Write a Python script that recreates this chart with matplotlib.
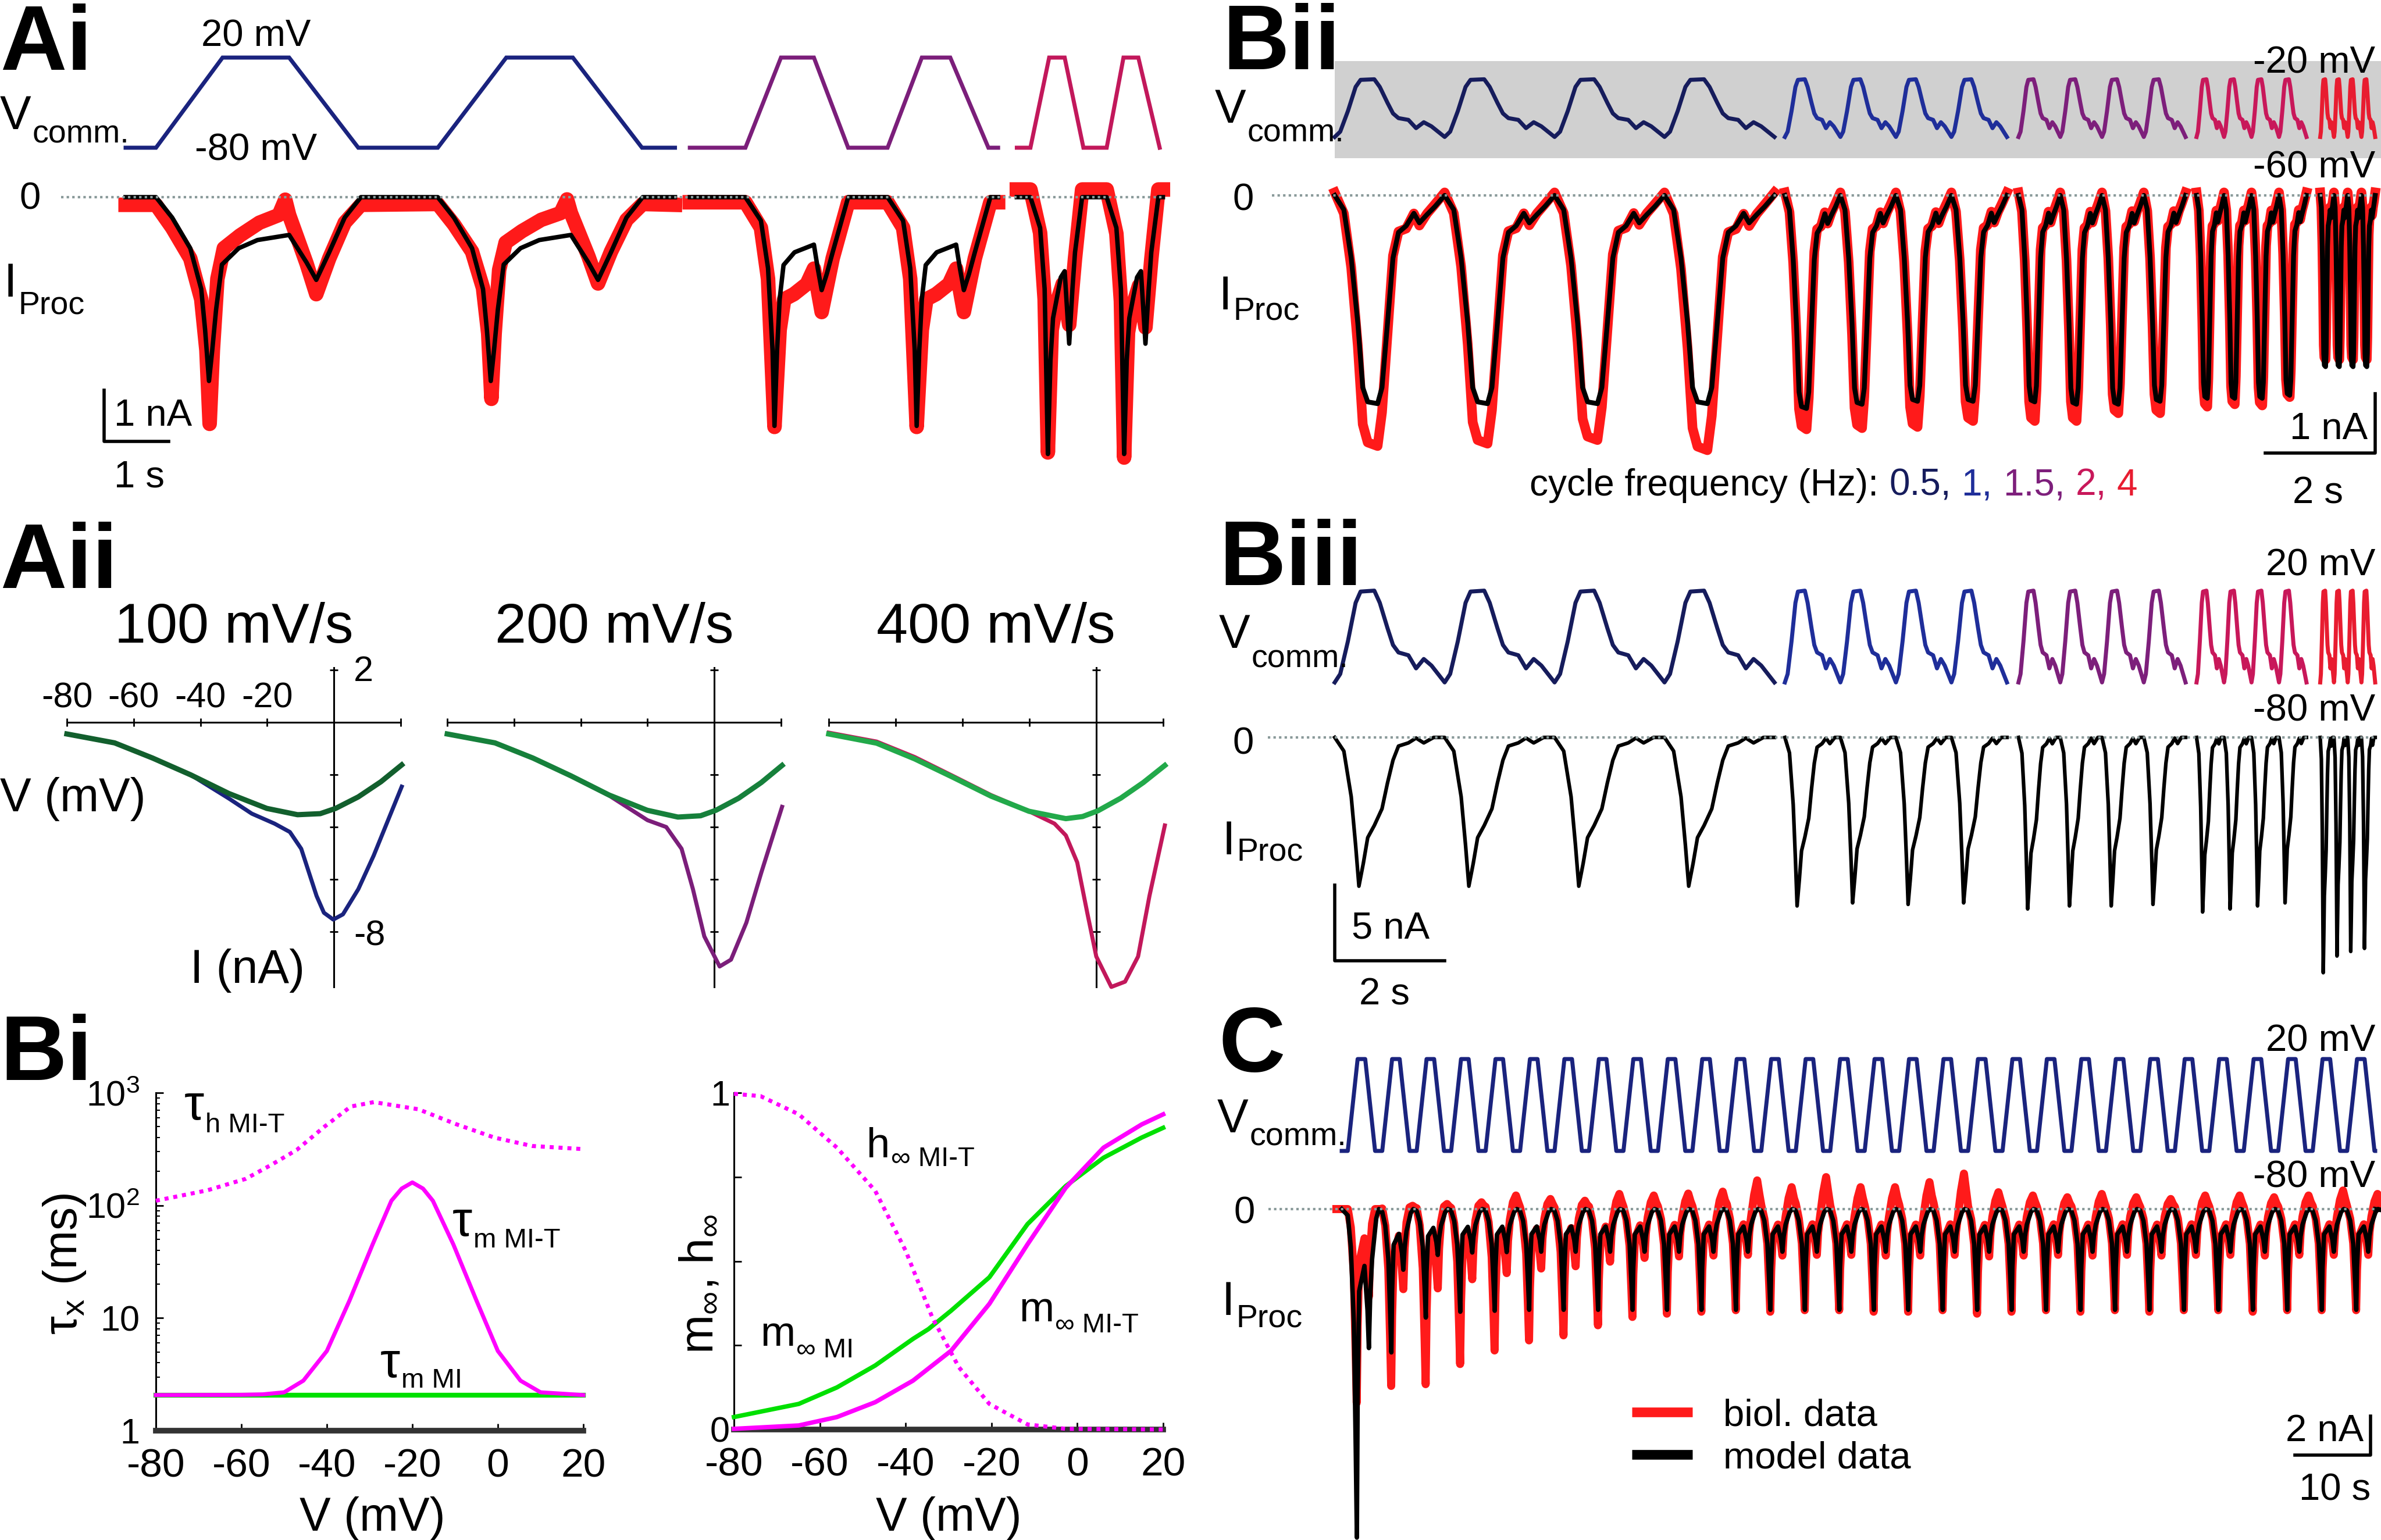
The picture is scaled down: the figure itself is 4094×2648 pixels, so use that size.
import numpy as np
import matplotlib
matplotlib.use('Agg')
import matplotlib.pyplot as plt
from matplotlib.text import Annotation
from matplotlib.lines import Line2D

plt.rcParams['font.family'] = ['Liberation Sans', 'DejaVu Sans']

W, H = 4094, 2648

# ---------------- data ----------------
# Ai: command voltage (s, mV) per colour block
ai_vt_blue = [0, 0.47, 1.5, 2.53, 3.6, 4.83, 5.89, 6.92, 7.99, 8.5]
ai_vv_blue = [-80, -80, 20, 20, -80, -80, 20, 20, -80, -80]
ai_vt_purple = [8.73, 9.59, 10.14, 10.65, 11.18, 11.79, 12.32, 12.76, 13.35, 13.5]
ai_vv_purple = [-80, -80, 20, 20, -80, -80, 20, 20, -80, -80]
ai_vt_crimson = [13.79, 14.0, 14.29, 14.53, 14.82, 15.18, 15.44, 15.67, 16.0]
ai_vv_crimson = [-80, -80, 20, 20, -80, -80, 20, 20, -80]

# Ai: current per cycle (time from ramp start, nA)
ai_starts = [[0.47, 4.83], [9.59, 11.79], [14.0, 15.18]]
ai_sections = [(0, 8.5), (8.73, 13.5), (13.79, 16.05)]
ai_blk_t = [[0, 0.25, 0.53, 0.70, 0.76, 0.82, 0.87, 0.93, 1.02, 1.28, 1.57, 2.06, 2.33, 2.48, 2.68, 2.92, 3.17],
            [0, 0.24, 0.35, 0.42, 0.45, 0.49, 0.53, 0.59, 0.76, 1.06, 1.12, 1.18, 1.26, 1.35, 1.59],
            [0, 0.15, 0.22, 0.27, 0.31, 0.35, 0.47, 0.53, 0.60, 0.65, 0.69, 0.80]]
ai_blk_i = [[0, -0.40, -1.0, -1.8, -2.6, -3.6, -3.0, -2.2, -1.32, -1.0, -0.84, -0.74, -1.28, -1.62, -1.08, -0.40, 0],
            [0, -0.46, -1.39, -3.0, -4.48, -3.0, -2.0, -1.33, -1.08, -0.93, -1.4, -1.82, -1.5, -1.08, 0],
            [0, -0.6, -1.8, -5.03, -3.2, -2.37, -1.57, -1.45, -2.87, -1.8, -1.08, 0]]
ai_red_t = [[0, 0.25, 0.53, 0.70, 0.78, 0.83, 0.88, 0.95, 1.05, 1.3, 1.6, 1.9, 2.0, 2.06, 2.33, 2.48, 2.68, 2.92, 3.17],
            [0, 0.24, 0.35, 0.45, 0.53, 0.60, 0.75, 0.95, 1.06, 1.18, 1.35, 1.59],
            [0, 0.15, 0.22, 0.27, 0.33, 0.40, 0.50, 0.60, 0.69, 0.80]]
ai_red_i = [[-0.15, -0.6, -1.2, -2.0, -3.0, -4.44, -3.0, -1.6, -1.0, -0.75, -0.5, -0.35, -0.05, -0.35, -1.3, -1.9, -1.2, -0.5, -0.15],
            [-0.1, -0.6, -1.6, -4.5, -2.6, -2.0, -1.9, -1.7, -1.4, -2.25, -1.2, -0.1],
            [0.15, -0.7, -2.0, -5.0, -2.6, -2.1, -1.7, -2.5, -1.2, 0.15]]
ai_red_mins = [[-4.44, -3.95], [-4.5, -4.5], [-5.0, -5.1]]
ai_red_base = [-0.15, -0.1, 0.15]

# Aii: I-V curves (mV, nA)
aii_green_v = [[-80, -65.7, -54.3, -42.9, -31.5, -20.1, -10.9, -4.1, 0.5, 7.3, 14.1, 20.3],
               [-80, -65.7, -54.3, -42.9, -31.5, -20.1, -10.9, -4.1, 0.5, 7.3, 14.1, 20.3],
               [-80, -65.7, -54.3, -42.9, -31.5, -20.1, -9.1, -4.1, 0.5, 7.3, 14.1, 20.5]]
aii_green_i = [[-0.45, -0.79, -1.37, -2.01, -2.72, -3.29, -3.53, -3.49, -3.29, -2.85, -2.27, -1.63],
               [-0.45, -0.79, -1.37, -2.05, -2.78, -3.36, -3.62, -3.57, -3.36, -2.9, -2.3, -1.65],
               [-0.45, -0.8, -1.4, -2.1, -2.82, -3.4, -3.68, -3.6, -3.38, -2.9, -2.3, -1.65]]
aii_ramp_v = [[-80, -65.7, -54.3, -42.9, -31.5, -24.6, -17.8, -13.2, -9.8, -7.5, -5.2, -3.0, -0.2, 2.7, 7.3, 11.9, 16.4, 20.3],
              [-80, -65.7, -54.3, -42.9, -31.5, -20, -14.4, -9.8, -6.4, -3.0, 1.6, 5.0, 9.6, 14.1, 20.3],
              [-80, -65.7, -54.3, -42.9, -31.5, -20.1, -12.5, -9.1, -5.7, -2.7, 0, 4.5, 8.6, 12.5, 15.9, 20.5]]
aii_ramp_i = [[-0.45, -0.79, -1.37, -2.01, -2.91, -3.49, -3.87, -4.19, -4.83, -5.73, -6.63, -7.27, -7.53, -7.33, -6.37, -5.09, -3.68, -2.46],
              [-0.45, -0.79, -1.37, -2.05, -2.8, -3.74, -4.0, -4.83, -6.37, -8.17, -9.32, -9.06, -7.65, -5.73, -3.23],
              [-0.4, -0.74, -1.33, -2.05, -2.78, -3.4, -3.87, -4.32, -5.35, -7.27, -8.94, -10.1, -9.9, -8.94, -6.63, -3.94]]
aii_titles = ['100 mV/s', '200 mV/s', '400 mV/s']

# Bi: time constants (mV, ms) and steady states
tau_h_v = [-80, -68, -59, -53, -47, -40.5, -34.4, -29, -18.6, -9.8, -0.8, 8, 20]
tau_h = [110, 136, 172, 229, 312, 502, 755, 826, 714, 527, 400, 337, 316]
tau_m_v = [-80, -60, -55, -50, -45.5, -40, -34.7, -29.3, -24.9, -22.5, -20, -17.5, -15.2, -10.4, -5, 0, 5.3, 10, 20]
tau_m = [2.07, 2.08, 2.1, 2.19, 2.78, 5.1, 14.3, 45, 110, 141, 160, 141, 110, 45, 14.3, 5.1, 2.78, 2.19, 2.07]
tau_mi_v = [-80, 20]
tau_mi = [2.07, 2.07]
minf_t_v = [-80, -64.9, -56, -47.1, -38.3, -29.4, -20.5, -11.6, -2.7, 6.1, 15, 20]
minf_t = [0.002, 0.012, 0.037, 0.081, 0.145, 0.234, 0.373, 0.55, 0.718, 0.837, 0.906, 0.936]
minf_v = [-80, -64.9, -56, -47.1, -38.3, -34.7, -29.4, -20.5, -11.6, -2.7, 6.1, 15, 20]
minf = [0.037, 0.076, 0.125, 0.19, 0.269, 0.298, 0.353, 0.452, 0.61, 0.723, 0.807, 0.867, 0.896]
hinf_v = [-80, -73.8, -64.9, -56, -47.1, -40, -33.8, -27.6, -20.5, -11.6, -2.7, 20]
hinf = [0.997, 0.99, 0.936, 0.837, 0.709, 0.531, 0.333, 0.185, 0.076, 0.015, 0.002, 0.0]

# Bii / Biii: cycles (phase 0..1 within one cycle)
b_sec_start = [0.0, 8.19, 12.44, 15.68, 17.93]
b_sec_period = [2.0, 1.01, 0.76, 0.5, 0.25]
b_sec_color = ['#161c5c', '#1f2e9a', '#7d1f7b', '#c8185a', '#e81c30']
b_v_p = [0, 0.05, 0.12, 0.19, 0.235, 0.36, 0.41, 0.48, 0.53, 0.58, 0.67, 0.74, 0.81, 0.88, 1.0]
b_v = [-79, -70, -35, 6, 18, 19, 6, -21, -39, -47, -50, -64, -54, -61, -79]
bii_p = [0, 0.083, 0.15, 0.21, 0.255, 0.30, 0.39, 0.43, 0.48, 0.53, 0.58, 0.65, 0.72, 0.77, 0.84, 0.91, 1.0]
bii_blk = [0, -0.24, -1.05, -2.14, -3.22, -3.46, -3.49, -3.22, -2.14, -1.05, -0.62, -0.51, -0.30, -0.46, -0.32, -0.19, 0]
bii_red = [0.05, -0.3, -1.2, -2.5, -3.8, -4.1, -4.16, -3.6, -2.3, -1.0, -0.6, -0.55, -0.3, -0.5, -0.3, -0.15, 0.05]
bii_blk_mins = [[-3.49] * 4, [-3.57, -3.5, -3.45, -3.45], [-3.46, -3.5, -3.5, -3.45],
                [-3.4, -3.4, -3.4, -3.35], [-2.87] * 4]
bii_red_mins = [[-4.2, -4.16, -4.1, -4.27], [-3.92, -3.9, -3.88, -3.78], [-3.78, -3.78, -3.65, -3.65],
                [-3.54, -3.5, -3.52, -3.38], [-2.75] * 4]
biii_p = [0, 0.083, 0.15, 0.19, 0.22, 0.26, 0.30, 0.36, 0.43, 0.48, 0.53, 0.58, 0.67, 0.74, 0.81, 0.90, 1.0]
biii_blk = [0, -0.9, -3.9, -7.1, -9.8, -8.3, -6.6, -5.8, -4.7, -3.0, -1.5, -0.57, -0.36, -0.04, -0.36, 0, 0]
biii_mins = [[-9.8] * 4, [-11.1, -10.9, -11.0, -10.9], [-11.3, -11.1, -11.1, -11.0],
             [-11.5, -11.3, -11.1, -10.9], [-15.5, -14.4, -14.1, -13.9]]

# C: 30 trapezoid cycles (s from ramp start)
c_period = 4.545
c_ncyc = 30
c_t_end = 136.3
c_v_t = [0, 1.3, 2.3, 3.6]
c_v = [-80, 20, 20, -80]
c_blk_t = [0.0, 0.4, 0.8, 1.05, 1.2, 1.3, 1.5, 2.2, 2.6, 2.78, 2.95, 3.2, 3.75, 4.1, 4.45]
c_blk = [-0.1, -0.6, -1.8, -3.8, -5.2, -3.0, -1.3, -0.9, -1.6, -2.2, -1.4, -0.8, -0.15, 0.0, -0.05]
c_red_t = [0.0, 0.4, 0.8, 1.05, 1.18, 1.3, 1.5, 2.2, 2.6, 2.78, 2.95, 3.2, 3.6, 4.0, 4.3]
c_red = [0.1, -0.5, -1.8, -4.0, -5.3, -3.2, -1.5, -0.8, -1.8, -2.4, -1.2, -0.4, 0.3, 0.6, 0.3]
c_blk_mins = [-16.96, -7.4, -5.6, -5.3, -5.25] + [-5.2] * 25
c_red_mins = [-10.0, -9.13, -9.04, -8.0, -7.3, -6.78, -6.52, -6.0, -5.57, -5.4,
              -5.3, -5.22, -5.3, -5.22, -5.22, -5.3, -5.3, -5.22, -5.4, -5.3,
              -5.22, -5.3, -5.22, -5.3, -5.22, -5.22, -5.3, -5.22, -5.22, -5.22]
c_red_tops = [0.0, 0.17, 0.26, 0.35, 0.7, 0.52, 0.43, 0.78, 0.7, 0.8,
              0.9, 1.48, 1.13, 1.65, 1.13, 1.13, 1.39, 1.83, 0.87, 0.7,
              0.61, 0.78, 0.61, 0.52, 0.7, 0.7, 0.61, 0.7, 0.96, 0.78]

# colours
NAVY = '#1a237e'
PURPLE = '#7b1e7a'
CRIMSON = '#c2185b'
RED = '#ff1a1a'
MAG = '#ff00ff'
GRN = '#00e000'
DOT = '#8a9a9a'

# ---------------- helpers ----------------
fig = plt.figure(figsize=(W / 100, H / 100), dpi=100)


def add_ax(x0, x1, y0, y1, xlim, ylim, off=True, log=False):
    ax = fig.add_axes([x0 / W, 1 - y1 / H, (x1 - x0) / W, (y1 - y0) / H])
    if log:
        ax.set_yscale('log')
    ax.set_xlim(xlim)
    ax.set_ylim(ylim)
    if off:
        ax.axis('off')
    return ax


def ftext(x, y, s, **kw):
    kw.setdefault('va', 'baseline')
    return fig.text(x / W, 1 - y / H, s, **kw)


def sub_text(x, y, main, sub, y_sub, ms=58, ss=40, dx=1.5, **kw):
    t = ftext(x, y, main, fontsize=ms, ha='left', **kw)
    a = Annotation(sub, xy=(1, H - y_sub), xycoords=(t, 'figure pixels'),
                   xytext=(dx, 0), textcoords='offset points',
                   fontsize=ss, va='baseline', ha='left', **kw)
    fig.add_artist(a)
    return a


def tile(starts, tt, vv, mins=None, tops=None, t0=None, t1=None, base=0.0, tscale=1.0):
    tt = np.asarray(tt, float)
    vv = np.asarray(vv, float)
    ts, vs = [], []
    if t0 is not None:
        ts.append(t0)
        vs.append(base)
    for k, s in enumerate(starts):
        v = vv.copy()
        if mins is not None:
            v = np.where(v < 0, v * mins[k] / vv.min(), v)
        if tops is not None and vv.max() > 0:
            v = np.where(v > 0, v * tops[k] / vv.max(), v)
        ts.extend(s + tt * tscale)
        vs.extend(v)
    if t1 is not None:
        ts.append(t1)
        vs.append(base)
    return np.array(ts), np.array(vs)


def zero_line(ax, a, b):
    ax.plot([a, b], [0, 0], color=DOT, lw=3, ls=(0, (1, 1.3)), zorder=5, clip_on=False)


LAB = dict(fontsize=114, fontweight='bold')
TXT = 47

# ---------------- Ai ----------------
ftext(0, 120, 'Ai', **LAB)
axv = add_ax(216, 1994, 99, 254, (0, 16), (-80, 20))
for tv, vv, c in [(ai_vt_blue, ai_vv_blue, NAVY), (ai_vt_purple, ai_vv_purple, PURPLE),
                  (ai_vt_crimson, ai_vv_crimson, CRIMSON)]:
    axv.plot(tv, vv, color=c, lw=5, clip_on=False, solid_joinstyle='miter')

axi = add_ax(216, 1994, 295.1, 778, (0, 16), (-5.0, 0.5))
for k in range(3):
    s0, s1 = ai_sections[k]
    tr, ir = tile(ai_starts[k], ai_red_t[k], ai_red_i[k], mins=ai_red_mins[k],
                  t0=s0, t1=s1, base=ai_red_base[k])
    axi.plot(tr, ir, color=RED, lw=18, clip_on=False, zorder=2, solid_joinstyle='round')
    tb, ib = tile(ai_starts[k], ai_blk_t[k], ai_blk_i[k], t0=s0, t1=s1)
    axi.plot(tb, ib, color='k', lw=5.5, clip_on=False, zorder=3)
zero_line(axi, -1.0, 16.05)
axi.plot([-0.33, -0.33, 0.67], [-3.78, -4.78, -4.78], color='k', lw=4, clip_on=False)

sub_text(0, 222, 'V', 'comm.', 245)
sub_text(7, 510, 'I', 'Proc', 540)
ftext(52, 360, '0', fontsize=TXT, ha='center')
ftext(440, 80, '20 mV', fontsize=TXT, ha='center')
ftext(440, 275, '-80 mV', fontsize=TXT, ha='center')
ftext(196, 732, '1 nA', fontsize=TXT)
ftext(196, 837, '1 s', fontsize=TXT)

# ---------------- Aii ----------------
ftext(0, 1011, 'Aii', **LAB)
aii_x = [(115, 689), (769, 1343), (1425, 2000)]
aii_col = [NAVY, PURPLE, CRIMSON]
aii_gcol = ['#125f2d', '#16803b', '#22a94a']
for k in range(3):
    x0, x1 = aii_x[k]
    ax = add_ax(x0, x1, 1148, 1697, (-80, 20), (-10.1, 2.08), off=False)
    ax.patch.set_visible(False)
    for sp in ['top', 'right']:
        ax.spines[sp].set_visible(False)
    ax.spines['left'].set_position(('data', 0))
    ax.spines['bottom'].set_position(('data', 0))
    for sp in ['left', 'bottom']:
        ax.spines[sp].set_linewidth(2.2)
    ax.set_xticks([-80, -60, -40, -20, 0, 20])
    ax.set_yticks([2, 0, -2, -4, -6, -8])
    ax.tick_params(direction='inout', length=10, width=2, labelbottom=False, labelleft=False)
    ax.plot(aii_ramp_v[k], aii_ramp_i[k], color=aii_col[k], lw=5, zorder=3, clip_on=False)
    ax.plot(aii_green_v[k], aii_green_i[k], color=aii_gcol[k], lw=6.5, zorder=4, clip_on=False)
    ftext((x0 + x1) / 2, 1105, aii_titles[k], fontsize=70, ha='center')
    if k == 0:
        for v in [-80, -60, -40, -20]:
            ax.text(v, 0.56, str(v), fontsize=44, ha='center', va='baseline')
ftext(608, 1171, '2', fontsize=44)
ftext(608, 1625, '-8', fontsize=44)
ftext(0, 1395, 'V (mV)', fontsize=58)
ftext(327, 1690, 'I (nA)', fontsize=58)

# ---------------- Bi ----------------
ftext(0, 1857, 'Bi', **LAB)
axl = add_ax(268, 1003, 1879, 2460, (-80, 20), (1, 1000), off=False, log=True)
axr = add_ax(1262, 2000, 1879, 2458, (-80, 20), (0, 1), off=False)
for ax in (axl, axr):
    ax.patch.set_visible(False)
    for sp in ['top', 'right']:
        ax.spines[sp].set_visible(False)
    ax.spines['left'].set_linewidth(2.2)
    ax.spines['bottom'].set_linewidth(7)
    ax.spines['bottom'].set_color('#333333')
    ax.set_xticks([-80, -60, -40, -20, 0, 20])
    ax.set_xticklabels(['-80', '-60', '-40', '-20', '0', '20'])
    ax.tick_params(axis='x', direction='in', length=9, width=2, labelsize=50, pad=21)
axl.set_yticks([1, 10, 100, 1000])
axl.set_yticklabels(['1', '10', r'$\mathregular{10^2}$', r'$\mathregular{10^3}$'])
axl.tick_params(axis='y', which='major', direction='in', length=9, width=2, labelsize=44, pad=20)
axl.tick_params(axis='y', which='minor', direction='in', length=5, width=1.5)
axr.set_yticks([0, 0.25, 0.5, 0.75, 1])
axr.set_yticklabels(['0', '', '', '', '1'])
axr.tick_params(axis='y', direction='in', length=9, width=2, labelsize=44, pad=5)

axl.plot(tau_mi_v, tau_mi, color=GRN, lw=6, zorder=3, clip_on=False)
axl.plot(tau_m_v, tau_m, color=MAG, lw=5, zorder=4, clip_on=False)
axl.plot(tau_h_v, tau_h, color=MAG, lw=5, ls=(0, (1.0, 1.2)), zorder=4, clip_on=False)
axr.plot(minf_v, minf, color=GRN, lw=5.5, zorder=3, clip_on=False)
axr.plot(minf_t_v, minf_t, color=MAG, lw=5.5, zorder=4, clip_on=False)
axr.plot(hinf_v, hinf, color=MAG, lw=5, ls=(0, (1.0, 1.2)), zorder=4, clip_on=False)

fig.text(111 / W, 1 - 2173 / H, r'τ$_{\mathregular{x}}$ (ms)', fontsize=58,
         rotation=90, ha='center', va='center')
fig.text(1203 / W, 1 - 2208 / H, r'm$_{\mathregular{∞}}$, h$_{\mathregular{∞}}$', fontsize=58,
         rotation=90, ha='center', va='center')
ftext(640, 2632, 'V (mV)', fontsize=58, ha='center')
ftext(1631, 2632, 'V (mV)', fontsize=58, ha='center')
sub_text(317, 1925, 'τ', 'h MI-T', 1947, ms=62, ss=34)
sub_text(778, 2125, 'τ', 'm MI-T', 2145, ms=62, ss=34)
sub_text(654, 2368, 'τ', 'm MI', 2386, ms=62, ss=34)
sub_text(1490, 1990, 'h', '∞ MI-T', 2005, ms=52, ss=34)
sub_text(1307, 2314, 'm', '∞ MI', 2334, ms=52, ss=34)
sub_text(1752, 2272, 'm', '∞ MI-T', 2291, ms=52, ss=34)

# ---------------- Bii ----------------
ftext(2102, 119, 'Bii', **LAB)
bg = fig.add_axes([2295 / W, 1 - 272 / H, (4094 - 2295) / W, (272 - 105) / H])
bg.set_facecolor('#d0d0d0')
bg.set_xticks([])
bg.set_yticks([])
for sp in bg.spines.values():
    sp.set_visible(False)

b_xlim = (0, 18.93)
axbv = add_ax(2295, 4084, 135.3, 236.5, b_xlim, (-80, 20))
axbi = add_ax(2295, 4084, 284.7, 797.7, b_xlim, (-4.5, 0.5))
axcv = add_ax(2295, 4084, 1014, 1175, b_xlim, (-80, 20))
axci = add_ax(2295, 4084, 1241.9, 1685.6, b_xlim, (-16, 1))
for k in range(5):
    per = b_sec_period[k]
    starts = [b_sec_start[k] + j * per for j in range(4)]
    tv, vv = tile(starts, b_v_p, b_v, tscale=per)
    axbv.plot(tv, vv, color=b_sec_color[k], lw=5, clip_on=False)
    axcv.plot(tv, vv, color=b_sec_color[k], lw=5, clip_on=False)
    tr, ir = tile(starts, bii_p, bii_red, mins=bii_red_mins[k], tscale=per)
    axbi.plot(tr, ir, color=RED, lw=12, clip_on=False, zorder=2)
    tb, ib = tile(starts, bii_p, bii_blk, mins=bii_blk_mins[k], tscale=per)
    axbi.plot(tb, ib, color='k', lw=6, clip_on=False, zorder=3)
    tc, ic = tile(starts, biii_p, biii_blk, mins=biii_mins[k], tscale=per)
    axci.plot(tc, ic, color='k', lw=4.5, clip_on=False, zorder=3)
zero_line(axbi, -1.14, 18.93)
zero_line(axci, -1.22, 18.93)
axbi.plot([16.93, 18.93, 18.93], [-4.32, -4.32, -3.32], color='k', lw=4, clip_on=False)
axci.plot([0, 0, 2], [-9.73, -14.71, -14.71], color='k', lw=4, clip_on=False)

sub_text(2089, 211, 'V', 'comm.', 244)
sub_text(2096, 532, 'I', 'Proc', 549)
ftext(2138, 361, '0', fontsize=TXT, ha='center')
ftext(4084, 125, '-20 mV', fontsize=TXT, ha='right')
ftext(4084, 305, '-60 mV', fontsize=TXT, ha='right')
ftext(4071, 755, '1 nA', fontsize=TXT, ha='right')
ftext(3985, 865, '2 s', fontsize=TXT, ha='center')

pieces = [('0.5,', b_sec_color[0]), ('1,', b_sec_color[1]), ('1.5,', b_sec_color[2]),
          ('2,', b_sec_color[3]), ('4', b_sec_color[4])]
prev = ftext(2630, 852, 'cycle frequency (Hz):', fontsize=46)
for s, c in pieces:
    a = Annotation(s, xy=(1, 0), xycoords=prev, xytext=(13, 0), textcoords='offset points',
                   fontsize=46, color=c, va='bottom', ha='left')
    fig.add_artist(a)
    prev = a

# ---------------- Biii ----------------
ftext(2096, 1006, 'Biii', **LAB)
sub_text(2096, 1114, 'V', 'comm.', 1147)
sub_text(2102, 1469, 'I', 'Proc', 1480)
ftext(2138, 1297, '0', fontsize=TXT, ha='center')
ftext(4084, 989, '20 mV', fontsize=TXT, ha='right')
ftext(4084, 1239, '-80 mV', fontsize=TXT, ha='right')
ftext(2324, 1613, '5 nA', fontsize=TXT)
ftext(2337, 1727, '2 s', fontsize=TXT)

# ---------------- C ----------------
ftext(2096, 1842, 'C', **LAB)
c_starts = [0.8 + j * c_period for j in range(c_ncyc)]
c_xlim = (0, c_t_end)
axdv = add_ax(2307, 4084, 1821, 1979, c_xlim, (-80, 20))
axdi = add_ax(2307, 4084, 2029, 2651.8, c_xlim, (-17.2, 1.5))
tv, vv = tile(c_starts, c_v_t, c_v, t0=0, t1=c_t_end, base=-80)
axdv.plot(tv, vv, color=NAVY, lw=5, clip_on=False)
tr, ir = tile(c_starts, c_red_t, c_red, mins=c_red_mins, tops=c_red_tops, t0=-0.7, t1=c_t_end)
axdi.plot(tr, ir, color=RED, lw=10, clip_on=False, zorder=2)
tb, ib = tile(c_starts, c_blk_t, c_blk, mins=c_blk_mins, t0=0, t1=c_t_end)
axdi.plot(tb, ib, color='k', lw=5.5, clip_on=False, zorder=3)
zero_line(axdi, -9.7, c_t_end)
axdi.plot([125.7, 135.7, 135.7], [-12.7, -12.7, -10.7], color='k', lw=4, clip_on=False)

sub_text(2093, 1947, 'V', 'comm.', 1970)
sub_text(2101, 2261, 'I', 'Proc', 2282)
ftext(2140, 2104, '0', fontsize=TXT, ha='center')
ftext(4084, 1807, '20 mV', fontsize=TXT, ha='right')
ftext(4084, 2041, '-80 mV', fontsize=TXT, ha='right')
ftext(4064, 2478, '2 nA', fontsize=TXT, ha='right')
ftext(4015, 2580, '10 s', fontsize=TXT, ha='center')

handles = [Line2D([], [], color=RED, lw=12, solid_capstyle='butt'),
           Line2D([], [], color='k', lw=12, solid_capstyle='butt')]
fig.legend(handles, ['biol. data', 'model data'], loc='upper left',
           bbox_to_anchor=(2806 / W, 1 - 2404 / H), frameon=False, fontsize=47,
           handlelength=1.6, handletextpad=0.8, labelspacing=0.2, borderpad=0,
           borderaxespad=0)

fig.savefig('out.png', dpi=100)
